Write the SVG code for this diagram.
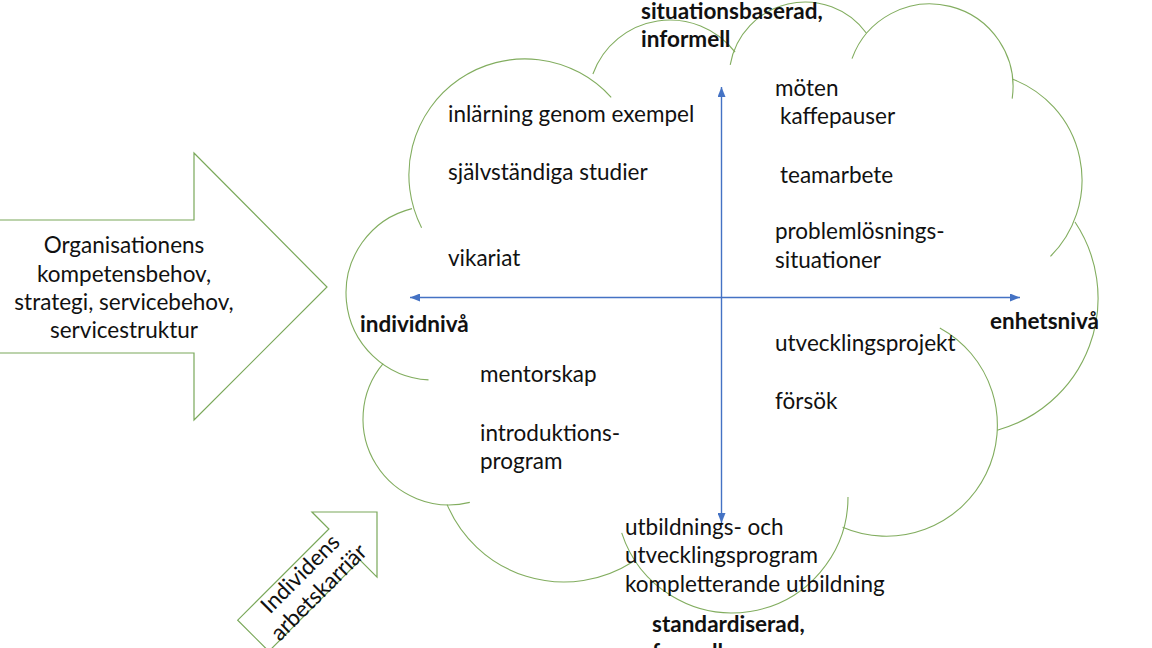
<svg xmlns="http://www.w3.org/2000/svg" width="1152" height="648" viewBox="0 0 1152 648">
<style>
.cloud{fill:none;stroke:#82ad5f;stroke-width:1.1}
.shape{fill:#fff;stroke:#7aa85a;stroke-width:1.2}
.axis{stroke:#4472C4;stroke-width:1.4;fill:none}
text{font-family:Lato,"Liberation Sans",sans-serif;font-size:22.5px;fill:#111}
.b{font-weight:bold}
.c{text-anchor:middle}
</style>
<defs>
<marker id="ah" markerUnits="userSpaceOnUse" markerWidth="10" markerHeight="8" refX="10" refY="4" orient="auto-start-reverse">
<path d="M0,0 L10,4 L0,8 z" fill="#4472C4"/>
</marker>
</defs>
<rect width="1152" height="648" fill="#fff"/>
<g id="cloud">
<path class="cloud" d="M421.6,227.7 A116,116 0 0 1 611.2,97.4"/>
<path class="cloud" d="M592.9,74 A82,82 0 0 1 735.1,52.2"/>
<path class="cloud" d="M730.2,64.8 A76,76 0 0 1 866.5,33.3"/>
<path class="cloud" d="M852,58.6 A83,83 0 0 1 1012.2,98.6"/>
<path class="cloud" d="M1012.7,79.2 A108,108 0 0 1 1050.4,256.4"/>
<path class="cloud" d="M1075,222 A137,137 0 0 1 997.2,430.2"/>
<path class="cloud" d="M939.8,327.9 A111,111 0 0 1 842.6,527.2"/>
<path class="cloud" d="M848,497 A116,116 0 0 1 621.7,532.8"/>
<path class="cloud" d="M632.1,562.2 A127,127 0 0 1 447.1,504.6"/>
<path class="cloud" d="M469.8,502.4 A86,86 0 0 1 383.1,363.7"/>
<path class="cloud" d="M428.5,379.9 A87,87 0 0 1 412,208.6"/>
</g>
<g id="org-arrow">
<polygon class="shape" points="-10,220 194,220 194,153 327,287 194,420 194,353 -10,353"/>
<text class="c" x="124" y="253">Organisationens</text>
<text class="c" x="124" y="282">kompetensbehov,</text>
<text class="c" x="124" y="310">strategi, servicebehov,</text>
<text class="c" x="124" y="338">servicestruktur</text>
</g>
<g id="career-arrow" transform="translate(377,512) rotate(-45)">
<polygon class="shape" points="0,0 -46,-46 -46,-22 -175,-22 -175,22 -46,22 -46,46"/>
<text class="c" x="-98" y="-3">Individens</text>
<text class="c" x="-98" y="23">arbetskarriär</text>
</g>
<g id="axes">
<line class="axis" x1="721.5" y1="87" x2="721.5" y2="523" marker-start="url(#ah)" marker-end="url(#ah)"/>
<line class="axis" x1="410" y1="297.5" x2="1020" y2="297.5" marker-start="url(#ah)" marker-end="url(#ah)"/>
</g>
<g id="labels">
<text class="b" x="641" y="19">situationsbaserad,</text>
<text class="b" x="641" y="47">informell</text>
<text class="b" x="360" y="332">individnivå</text>
<text class="b" x="990" y="329">enhetsnivå</text>
<text class="b" x="652" y="632">standardiserad,</text>
<text class="b" x="652" y="660">formell</text>
</g>
<g id="items">
<text x="448" y="122">inlärning genom exempel</text>
<text x="448" y="180">självständiga studier</text>
<text x="448" y="266">vikariat</text>
<text x="775" y="96">möten</text>
<text x="780" y="124">kaffepauser</text>
<text x="780" y="183">teamarbete</text>
<text x="775" y="239">problemlösnings-</text>
<text x="775" y="268">situationer</text>
<text x="775" y="351">utvecklingsprojekt</text>
<text x="775" y="409">försök</text>
<text x="480" y="382">mentorskap</text>
<text x="480" y="441">introduktions-</text>
<text x="480" y="469">program</text>
<text x="625" y="535">utbildnings- och</text>
<text x="625" y="563">utvecklingsprogram</text>
<text x="625" y="592">kompletterande utbildning</text>
</g>
</svg>
